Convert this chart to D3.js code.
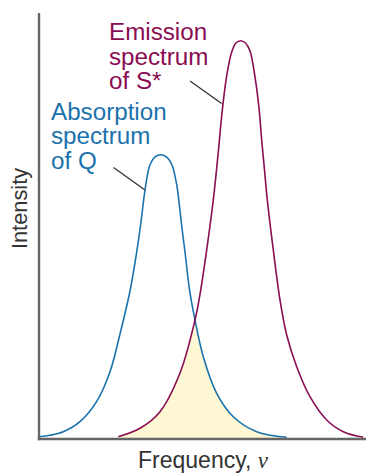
<!DOCTYPE html>
<html>
<head>
<meta charset="utf-8">
<script src="https://cdn.jsdelivr.net/npm/d3@7"></script>
<style>
  html, body { margin: 0; padding: 0; background: #fff; }
  svg { display: block; }
  text { font-family: "Liberation Sans", Arial, Helvetica, sans-serif; }
</style>
</head>
<body>
<div id="chart"></div>
<script>
// Frequency (arbitrary units 0-100) and intensity (0-100)
const absorptionX = [0, 3.36, 7.43, 12.54, 17.65, 21.71, 24.77, 27.83, 29.97, 31.19, 32.42, 33.94, 35.47, 37.31, 39.14, 40.67, 42.11, 42.91, 43.64, 44.65, 45.96, 47.71, 50.24, 54.34, 59.42, 66.57, 75.75];
const absorptionY = [0.31, 0.64, 1.48, 3.84, 8.6, 15.6, 24.47, 34.59, 44.24, 50.82, 58.35, 64.31, 66.12, 66.66, 66.05, 64.24, 59.6, 54.89, 49.88, 43.76, 35.29, 27.76, 19.13, 10.52, 5.01, 1.48, 0.16];
const emissionX = [24.25, 30.89, 37.0, 43.12, 47.71, 49.45, 51.28, 53.3, 54.83, 56.06, 57.4, 58.93, 60.24, 61.68, 63.15, 64.53, 66.06, 67.28, 68.1, 68.96, 69.82, 71.65, 73.7, 75.75, 78.81, 82.87, 87.98, 93.06, 99.17];
const emissionY = [0.31, 2.28, 6.19, 15.29, 27.76, 34.82, 44.24, 56.0, 67.29, 77.18, 85.18, 90.82, 92.94, 93.48, 92.94, 91.06, 84.94, 77.65, 70.12, 63.06, 56.0, 44.24, 32.47, 24.24, 16.78, 9.72, 4.24, 1.48, 0.16];

const emissionLabel = ["Emission", "spectrum", "of S*"];
const absorptionLabel = ["Absorption", "spectrum", "of Q"];
const xAxisLabel = "Frequency, ";
const xAxisSymbol = "ν";
const yAxisLabel = "Intensity";

const W = 366, H = 475;
const blue = "#1a72ad", purple = "#8a0c52", fillColor = "#fdf8d3", axisColor = "#666";

const svg = d3.select("#chart").append("svg").attr("width", W).attr("height", H);

const x = d3.scaleLinear().domain([0, 100]).range([39, 366]);
const y = d3.scaleLinear().domain([0, 100]).range([438, 13]);

const absorption = absorptionX.map((v, i) => [v, absorptionY[i]]);
const emission = emissionX.map((v, i) => [v, emissionY[i]]);

const curve = d3.curveCatmullRom.alpha(0.5);
const line = d3.line().x(d => x(d[0])).y(d => y(d[1])).curve(curve);
const area = d3.area().x(d => x(d[0])).y0(y(0)).y1(d => y(d[1])).curve(curve);

// overlap: area under absorption clipped by area under emission
svg.append("clipPath").attr("id", "underEmission")
  .append("path").attr("d", area(emission));
svg.append("path").attr("d", area(absorption))
  .attr("fill", fillColor).attr("clip-path", "url(#underEmission)");

svg.append("path").attr("d", line(absorption))
  .attr("fill", "none").attr("stroke", blue).attr("stroke-width", 1.6);
svg.append("path").attr("d", line(emission))
  .attr("fill", "none").attr("stroke", purple).attr("stroke-width", 1.6);

// axes
const xAxis = svg.append("g").attr("transform", `translate(0,${y(0) + 1})`)
  .call(d3.axisBottom(x).tickValues([]).tickSizeOuter(0));
const yAxis = svg.append("g").attr("transform", `translate(${x(0)},0)`)
  .call(d3.axisLeft(y).tickValues([]).tickSizeOuter(0));
svg.selectAll(".domain").attr("stroke", axisColor).attr("stroke-width", 2.4);
xAxis.select(".domain").attr("d", `M${x(0) - 1.2},0H${x(100)}`);
yAxis.select(".domain").attr("d", `M0,${y(100)}V${y(0) + 2.2}`);

// axis labels
const xl = svg.append("text")
  .attr("x", 203).attr("y", 468)
  .attr("text-anchor", "middle").attr("font-size", 23).attr("fill", "#333");
xl.append("tspan").text(xAxisLabel);
xl.append("tspan").text(xAxisSymbol)
  .attr("font-family", "'Liberation Serif', 'DejaVu Serif', serif").attr("font-style", "italic");

svg.append("text")
  .attr("transform", "translate(27,208.5) rotate(-90)")
  .attr("text-anchor", "middle").attr("font-size", 21.8).attr("fill", "#333")
  .text(yAxisLabel);

// series labels
function block(lines, x0, y0, color) {
  const t = svg.append("text").attr("x", x0).attr("y", y0)
    .attr("font-size", 24.2).attr("fill", color);
  lines.forEach((s, i) => t.append("tspan").attr("x", x0).attr("dy", i === 0 ? 0 : 24.5).text(s));
}
block(emissionLabel, 109, 40, purple);
block(absorptionLabel, 51, 119.5, blue);

// leader lines
svg.append("line").attr("x1", 190).attr("y1", 81).attr("x2", 221.6).attr("y2", 103.5)
  .attr("stroke", "#333").attr("stroke-width", 1.3);
svg.append("line").attr("x1", 113.5).attr("y1", 167.5).attr("x2", 145).attr("y2", 190)
  .attr("stroke", "#333").attr("stroke-width", 1.3);
</script>
</body>
</html>
